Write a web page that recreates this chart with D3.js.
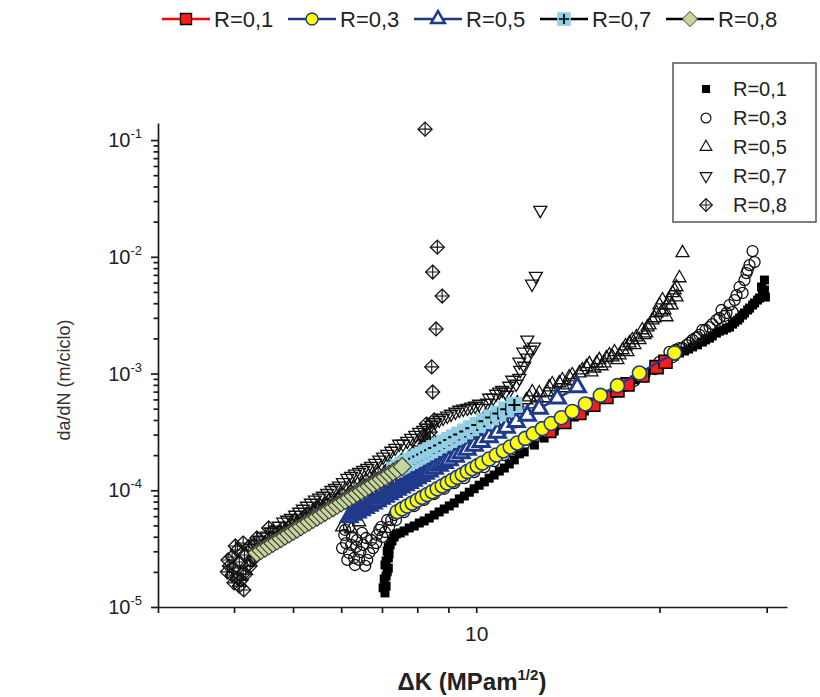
<!DOCTYPE html>
<html><head><meta charset="utf-8">
<script src="https://cdn.jsdelivr.net/npm/d3@7"></script>
<style>body{margin:0;background:#fff}svg{display:block;font-family:"Liberation Sans",Arial,sans-serif}</style>
</head><body><svg id="c" width="820" height="697"></svg>
<script>
const seriesNames = ["R=0,1","R=0,3","R=0,5","R=0,7","R=0,8"];
const xTickValues = [3,4,5,6,7,8,9,10,20,30];
const xTickLabels = {10:"10"};
const yMajorTicks = [1e-5,1e-4,1e-3,1e-2,1e-1];
const yMajorExp = ["-5","-4","-3","-2","-1"];

// experimental data [ΔK, da/dN]
const exp01 = [[7.08,1.32e-5],[7.11,1.51e-5],[7.06,1.74e-5],[7.14,2.00e-5],[7.08,2.29e-5],[7.17,2.63e-5],[7.14,3.02e-5],[7.22,3.40e-5],[7.33,3.98e-5],[7.61,4.48e-5],[7.91,4.94e-5],[8.21,5.46e-5],[8.53,6.14e-5],[8.86,6.91e-5],[9.20,7.78e-5],[9.56,8.93e-5],[9.92,1.03e-4],[10.31,1.18e-4],[10.70,1.35e-4],[11.12,1.55e-4],[11.55,1.82e-4],[11.99,2.13e-4],[12.46,2.44e-4],[12.93,2.80e-4],[13.43,3.22e-4],[13.95,3.69e-4],[14.49,4.24e-4],[15.05,4.77e-4],[15.63,5.48e-4],[16.24,6.17e-4],[16.87,6.95e-4],[17.51,7.82e-4],[18.19,8.80e-4],[18.90,1.01e-3],[19.63,1.14e-3],[20.38,1.28e-3],[21.17,1.41e-3],[21.99,1.56e-3],[22.66,1.69e-3],[23.52,1.86e-3],[24.17,2.01e-3],[24.81,2.22e-3],[25.48,2.36e-3],[26.07,2.50e-3],[26.58,2.76e-3],[27.08,2.99e-3],[27.59,3.30e-3],[28.12,3.64e-3],[28.66,4.02e-3],[29.21,4.44e-3],[29.53,4.70e-3],[29.42,5.51e-3],[29.75,6.32e-3],
  [7.03,1.46e-5],[7.11,1.84e-5],[7.17,2.15e-5],[7.11,2.48e-5],[7.19,2.85e-5],[7.17,3.27e-5],[7.27,3.68e-5],[7.39,4.22e-5],[7.50,4.31e-5],[7.76,4.75e-5],[8.06,5.24e-5],[8.37,5.78e-5],[8.69,6.52e-5],[9.03,7.34e-5],[9.38,8.43e-5],[9.74,9.62e-5],[10.11,1.105e-4],[10.50,1.27e-4],[10.91,1.46e-4],[11.33,1.68e-4],[11.77,2.05e-4],
  [21.57,1.50e-3],[22.32,1.62e-3],[23.09,1.76e-3],[23.81,1.94e-3],[24.42,2.10e-3],[25.10,2.31e-3],[25.77,2.45e-3],[26.37,2.65e-3],[26.88,2.87e-3],[27.39,3.17e-3],[27.92,3.50e-3],[28.44,3.86e-3],[28.99,4.26e-3],[29.75,5.19e-3],[29.86,4.52e-3]];
const exp03 = [[6.07,4.14e-5],[6.11,3.53e-5],[6.18,2.90e-5],[6.18,4.84e-5],[6.25,3.98e-5],[6.30,2.63e-5],[6.35,3.27e-5],[6.42,2.53e-5],[6.49,4.31e-5],[6.57,2.25e-5],[6.67,2.90e-5],[6.72,3.75e-5],[6.85,3.53e-5],[6.93,4.57e-5],[7.01,3.98e-5],[7.14,5.56e-5],[7.19,4.84e-5],[7.33,6.14e-5],[7.38,5.56e-5],[7.61,6.51e-5],[7.91,7.33e-5],[8.21,8.26e-5],[8.53,9.29e-5],[8.86,1.03e-4],[9.20,1.15e-4],[9.56,1.27e-4],[9.92,1.43e-4],[10.31,1.58e-4],[10.70,1.78e-4],[11.12,2.00e-4],[11.55,2.25e-4],[11.99,2.49e-4],[12.46,2.80e-4],[12.93,3.15e-4],[13.43,3.48e-4],[13.95,3.92e-4],[14.49,4.41e-4],[15.05,4.97e-4],[15.63,5.48e-4],[16.24,6.17e-4],[16.87,6.95e-4],[17.51,7.82e-4],[18.19,8.63e-4],[18.90,9.71e-4],[19.63,1.09e-3],[20.38,1.23e-3],[21.01,1.38e-3],[21.57,1.65e-3],[22.15,1.75e-3],[22.66,1.94e-3],[23.09,2.05e-3],[23.52,2.36e-3],[24.17,2.50e-3],[24.81,2.87e-3],[25.29,3.50e-3],[25.77,3.30e-3],[26.37,3.36e-3],[26.77,4.70e-3],[27.08,5.51e-3],[27.39,4.90e-3],[27.80,7.26e-3],[28.12,8.49e-3],[28.66,9.01e-3],[28.44,1.12e-2],
  [6.02,3.20e-5],[6.14,2.53e-5],[6.23,3.40e-5],[6.37,3.75e-5],[6.45,2.96e-5],[6.52,3.40e-5],[6.62,2.53e-5],[6.77,3.20e-5],[6.87,4.14e-5],[6.98,4.85e-5],[7.08,4.39e-5],[7.25,5.56e-5],[6.59,3.90e-5],[6.32,2.29e-5],[6.09,4.57e-5],
  [20.00,1.26e-3],[20.77,1.53e-3],[21.25,1.59e-3],[21.82,1.65e-3],[22.41,1.83e-3],[22.93,2.02e-3],[23.27,2.14e-3],[23.81,2.36e-3],[24.42,2.65e-3],[25.10,2.99e-3],[25.58,3.11e-3],[26.07,3.86e-3],[26.58,4.26e-3],[27.59,6.32e-3],[27.92,7.70e-3]];
const exp05 = [[6.02,4.84e-5],[6.14,5.78e-5],[6.23,4.65e-5],[6.32,6.51e-5],[6.42,5.35e-5],[6.54,7.93e-5],[6.80,8.75e-5],[7.06,1.00e-4],[7.33,1.11e-4],[7.61,1.25e-4],[7.91,1.38e-4],[8.21,1.55e-4],[8.53,1.75e-4],[8.86,1.96e-4],[9.20,2.21e-4],[9.56,2.44e-4],[9.92,2.75e-4],[10.31,3.09e-4],[10.70,3.48e-4],[11.12,3.92e-4],[11.46,5.16e-4],[11.77,4.87e-4],[12.22,6.29e-4],[12.44,5.48e-4],[12.69,6.81e-4],[12.93,6.17e-4],[13.18,7.66e-4],[13.48,6.95e-4],[13.69,8.30e-4],[13.95,7.52e-4],[14.22,9.33e-4],[14.49,8.63e-4],[14.77,1.01e-3],[15.17,1.14e-3],[15.46,1.03e-3],[15.77,1.23e-3],[16.06,1.16e-3],[16.36,1.36e-3],[16.74,1.38e-3],[17.06,1.31e-3],[17.40,1.59e-3],[17.72,1.53e-3],[17.85,1.82e-3],[18.33,2.05e-3],[18.54,1.94e-3],[18.74,2.36e-3],[19.02,2.22e-3],[19.11,2.50e-3],[19.48,2.87e-3],[19.78,3.30e-3],[20.00,3.86e-3],[20.38,3.50e-3],[20.54,3.05e-3],[20.77,4.26e-3],[21.01,4.90e-3],[21.33,4.52e-3],[21.33,5.51e-3],[21.57,6.58e-3],[21.82,1.08e-2],
  [6.42,6.52e-5],[6.67,7.49e-5],[6.93,8.26e-5],[7.19,9.43e-5],[7.47,1.06e-4],[7.76,1.17e-4],[8.06,1.32e-4],[8.37,1.49e-4],[8.69,1.68e-4],[9.03,1.89e-4],[9.38,2.12e-4],[9.74,2.35e-4],[10.11,2.64e-4],[10.50,2.91e-4],[10.91,3.28e-4],[11.33,3.69e-4],
  [11.68,5.59e-4],[12.09,5.93e-4],[12.36,6.94e-4],[12.59,6.17e-4],[13.08,6.94e-4],[13.33,8.13e-4],[13.85,8.80e-4],[14.11,7.97e-4],[14.38,9.72e-4],[14.94,1.07e-3],[15.34,1.21e-3],[15.63,1.11e-3],[15.93,1.31e-3],[16.24,1.23e-3],[16.55,1.44e-3],[16.87,1.53e-3],[17.19,1.44e-3],[17.59,1.72e-3],[18.05,1.94e-3],[18.19,1.76e-3],[18.90,2.14e-3],[19.26,2.60e-3],[19.63,2.99e-3],[20.15,3.36e-3],[20.61,3.86e-3],[20.93,3.86e-3],[21.17,5.19e-3],[20.23,4.26e-3]];
const exp07 = [[4.26,3.20e-5],[4.40,3.75e-5],[4.53,4.06e-5],[4.67,4.57e-5],[4.82,5.35e-5],[4.96,5.78e-5],[5.12,6.51e-5],[5.27,7.33e-5],[5.43,8.26e-5],[5.60,8.93e-5],[5.78,1.00e-4],[5.95,1.09e-4],[6.14,1.27e-4],[6.32,1.38e-4],[6.52,1.49e-4],[6.72,1.61e-4],[6.93,1.82e-4],[7.14,2.04e-4],[7.36,2.30e-4],[7.58,2.49e-4],[7.82,2.80e-4],[8.06,3.15e-4],[8.30,3.41e-4],[8.56,3.84e-4],[8.82,4.16e-4],[9.09,4.50e-4],[9.38,4.87e-4],[9.67,5.06e-4],[9.96,5.27e-4],[10.19,5.06e-4],[10.42,5.59e-4],[10.66,6.17e-4],[10.91,6.95e-4],[11.16,6.95e-4],[11.33,7.82e-4],[11.46,8.80e-4],[11.63,8.13e-4],[11.77,9.14e-4],[11.81,1.07e-3],[11.99,1.16e-3],[11.77,1.26e-3],[12.13,1.36e-3],[11.95,1.53e-3],[12.26,1.59e-3],[12.44,1.69e-3],[12.13,1.94e-3],[12.35,5.85e-3],[12.53,6.84e-3],[12.74,2.51e-2],
  [4.33,3.47e-5],[4.46,3.98e-5],[4.60,4.39e-5],[4.74,4.94e-5],[4.89,5.56e-5],[5.04,6.14e-5],[5.19,6.91e-5],[5.35,7.78e-5],[5.52,8.59e-5],[5.69,9.43e-5],[5.86,1.04e-4],[6.04,1.17e-4],[6.23,1.32e-4],[6.42,1.43e-4],[6.62,1.55e-4],[6.82,1.71e-4],[7.03,1.93e-4],[7.25,2.17e-4],[7.47,2.49e-4],[7.70,2.64e-4],[7.94,2.97e-4],[8.18,3.28e-4],[8.43,3.62e-4],[8.69,4.00e-4],[8.96,4.33e-4],[9.24,4.68e-4],[9.52,4.97e-4],[9.81,5.17e-4],[10.11,5.48e-4],[10.50,6.17e-4],[10.78,6.68e-4],[11.03,7.22e-4],[11.24,6.55e-4]];
const exp08 = [[4.08,1.51e-5],[4.00,1.61e-5],[4.05,1.77e-5],[4.14,1.92e-5],[3.90,2.00e-5],[3.99,2.16e-5],[4.20,2.25e-5],[4.08,2.43e-5],[4.26,2.53e-5],[3.97,2.68e-5],[4.16,2.79e-5],[4.33,2.90e-5],[4.05,3.08e-5],[4.23,3.27e-5],[4.14,3.53e-5],[4.32,3.40e-5],[4.46,3.20e-5],[4.58,3.90e-5],[4.65,3.75e-5],[4.56,4.75e-5],[4.74,4.39e-5],[4.87,4.22e-5],[4.96,5.04e-5],[5.08,4.75e-5],[5.19,5.78e-5],[5.31,5.34e-5],[5.43,6.51e-5],[5.56,6.14e-5],[5.52,7.48e-5],[5.69,7.48e-5],[5.82,6.91e-5],[5.95,8.41e-5],[6.09,7.93e-5],[6.23,9.66e-5],[6.37,8.93e-5],[6.52,1.11e-4],[6.67,1.03e-4],[6.82,1.27e-4],[6.98,1.18e-4],[7.14,1.46e-4],[7.30,1.38e-4],[7.47,1.68e-4],[7.64,1.61e-4],[7.82,1.96e-4],[8.00,1.89e-4],[8.18,2.30e-4],[8.06,2.39e-4],[8.30,2.69e-4],[8.40,3.15e-4],[8.28,3.69e-4],[8.53,4.00e-4],[8.48,6.95e-4],[8.45,1.14e-3],[8.59,2.41e-3],[8.79,4.61e-3],[8.48,7.40e-3],[8.63,1.21e-2],[8.24,0.124],
  [4.36,3.90e-5],[4.50,3.47e-5],[4.62,4.39e-5],[4.72,3.90e-5],[4.83,4.75e-5],[4.93,4.39e-5],[5.04,5.56e-5],[5.15,5.14e-5],[5.27,6.27e-5],[5.37,5.78e-5],[5.50,7.05e-5],[5.62,6.65e-5],[5.75,8.26e-5],[5.88,7.79e-5],[6.02,9.24e-5],[6.16,8.76e-5],[6.30,1.04e-4],[6.45,9.80e-5],[6.59,1.20e-4],[6.74,1.15e-4],[6.90,1.38e-4],[7.06,1.27e-4],[7.22,1.58e-4],[7.39,1.49e-4],[7.56,1.82e-4],[7.73,1.75e-4],[7.91,2.12e-4],[8.09,2.04e-4],[8.24,2.49e-4],[8.40,2.80e-4],[8.18,2.91e-4],
  [3.93,2.24e-5],[3.97,1.88e-5],[4.11,1.70e-5],[4.18,1.91e-5],[4.25,2.24e-5],[4.02,3.33e-5],[4.32,2.63e-5],[4.40,3.08e-5],[3.91,2.53e-5],[4.15,1.40e-5]];

// fitted series [ΔK, da/dN]
const fit01 = [[13.18,3.228e-4],[13.95,3.848e-4],[14.77,4.589e-4],[15.57,5.409e-4],[16.36,6.301e-4],[17.06,7.171e-4],[17.72,8.067e-4],[18.75,9.616e-4],[19.78,1.134e-3],[20.46,1.260e-3]];
const fit03 = [[7.416,6.55e-5],[7.556,6.93e-5],[7.700,7.33e-5],[7.846,7.76e-5],[7.998,8.21e-5],[8.150,8.69e-5],[8.307,9.19e-5],[8.465,9.72e-5],[8.628,1.030e-4],[8.793,1.089e-4],[8.961,1.152e-4],[9.131,1.219e-4],[9.305,1.290e-4],[9.484,1.365e-4],[9.665,1.445e-4],[9.849,1.529e-4],[10.04,1.617e-4],[10.23,1.712e-4],[10.50,1.853e-4],[10.79,2.005e-4],[11.08,2.170e-4],[11.37,2.349e-4],[11.68,2.542e-4],[12.04,2.783e-4],[12.41,3.048e-4],[12.84,3.375e-4],[13.28,3.736e-4],[13.80,4.181e-4],[14.38,4.735e-4],[15.11,5.486e-4],[15.99,6.496e-4],[17.06,7.873e-4],[18.54,1.010e-3],[21.17,1.500e-3]];
const fit05 = [[6.182,5.90e-5],[6.277,6.17e-5],[6.373,6.45e-5],[6.471,6.75e-5],[6.569,7.06e-5],[6.668,7.39e-5],[6.770,7.73e-5],[6.874,8.08e-5],[6.979,8.46e-5],[7.085,8.84e-5],[7.193,9.25e-5],[7.303,9.67e-5],[7.416,1.012e-4],[7.527,1.058e-4],[7.642,1.107e-4],[7.759,1.158e-4],[7.877,1.212e-4],[7.998,1.268e-4],[8.118,1.326e-4],[8.243,1.386e-4],[8.369,1.451e-4],[8.528,1.534e-4],[8.692,1.623e-4],[8.859,1.717e-4],[9.028,1.816e-4],[9.236,1.943e-4],[9.447,2.078e-4],[9.665,2.224e-4],[9.924,2.406e-4],[10.19,2.603e-4],[10.50,2.849e-4],[10.83,3.115e-4],[11.20,3.447e-4],[11.63,3.859e-4],[12.13,4.368e-4],[12.69,4.997e-4],[13.59,6.118e-4],[14.66,7.66e-4]];
const fit07 = [[7.33,1.505e-4],[7.442,1.570e-4],[7.556,1.638e-4],[7.672,1.709e-4],[7.788,1.782e-4],[7.907,1.861e-4],[8.028,1.942e-4],[8.150,2.026e-4],[8.276,2.113e-4],[8.400,2.204e-4],[8.528,2.299e-4],[8.692,2.424e-4],[8.859,2.557e-4],[9.028,2.696e-4],[9.200,2.842e-4],[9.376,2.997e-4],[9.592,3.194e-4],[9.813,3.405e-4],[10.04,3.628e-4],[10.31,3.910e-4],[10.58,4.211e-4],[10.87,4.535e-4],[11.20,4.934e-4],[11.55,5.373e-4]];
const fit08 = [[4.363,2.906e-5],[4.430,3.046e-5],[4.498,3.193e-5],[4.565,3.345e-5],[4.635,3.506e-5],[4.706,3.675e-5],[4.778,3.852e-5],[4.851,4.038e-5],[4.925,4.229e-5],[5.000,4.433e-5],[5.077,4.648e-5],[5.155,4.871e-5],[5.233,5.107e-5],[5.313,5.349e-5],[5.395,5.608e-5],[5.477,5.879e-5],[5.561,6.162e-5],[5.645,6.457e-5],[5.731,6.767e-5],[5.819,7.094e-5],[5.908,7.434e-5],[5.998,7.794e-5],[6.089,8.166e-5],[6.182,8.558e-5],[6.277,8.972e-5],[6.373,9.404e-5],[6.471,9.858e-5],[6.569,1.032e-4],[6.668,1.082e-4],[6.770,1.134e-4],[6.874,1.189e-4],[6.979,1.246e-4],[7.085,1.305e-4],[7.193,1.368e-4],[7.303,1.435e-4],[7.416,1.504e-4],[7.556,1.594e-4]];

const svg = d3.select("#c");
const x = d3.scaleLog().domain([3, 32.4]).range([158, 787]);
const y = d3.scaleLog().domain([1e-5, 0.14]).range([607, 123]);
const AX = "#1a1a1a";

const sqP = s => `M${-s},${-s}H${s}V${s}H${-s}Z`;
const triUpP = a => { const h=a*Math.sqrt(3)/2; return `M0,${-2*h/3}L${a/2},${h/3}L${-a/2},${h/3}Z`; };
const triDnP = a => { const h=a*Math.sqrt(3)/2; return `M0,${2*h/3}L${a/2},${-h/3}L${-a/2},${-h/3}Z`; };
const diamP = r => `M0,${-r}L${r},0L0,${r}L${-r},0Z`;
const crossP = r => `M0,${-r}V${r}M${-r},0H${r}`;

const NAVY = "#1f3a8a";
function marker(g, type) {
  switch (type) {
    case "e01": g.append("path").attr("d", sqP(4.5)).attr("fill", "#000"); break;
    case "e03": g.append("circle").attr("r", 5.5).attr("fill", "none").attr("stroke", "#111").attr("stroke-width", 1.3); break;
    case "e05": g.append("path").attr("d", triUpP(13)).attr("fill", "none").attr("stroke", "#111").attr("stroke-width", 1.3); break;
    case "e07": g.append("path").attr("d", triDnP(13)).attr("fill", "none").attr("stroke", "#111").attr("stroke-width", 1.3); break;
    case "e08":
      g.append("path").attr("d", diamP(7)).attr("fill", "none").attr("stroke", "#111").attr("stroke-width", 1.3);
      g.append("path").attr("d", crossP(7)).attr("fill", "none").attr("stroke", "#111").attr("stroke-width", 1.1); break;
    case "f01": g.append("path").attr("d", sqP(6.5)).attr("fill", "#ff1a1a").attr("stroke", "#000").attr("stroke-width", 1.6); break;
    case "f03": g.append("circle").attr("r", 7).attr("fill", "#ffff00").attr("stroke", NAVY).attr("stroke-width", 1.6); break;
    case "f05": g.append("path").attr("d", triUpP(16)).attr("fill", "#fff").attr("stroke", NAVY).attr("stroke-width", 3); break;
    case "f07":
      g.append("path").attr("d", sqP(8)).attr("fill", "#93cfe4");
      g.append("path").attr("d", crossP(6)).attr("fill", "none").attr("stroke", "#000").attr("stroke-width", 2); break;
    case "f08": g.append("path").attr("d", diamP(9)).attr("fill", "#c4d59e").attr("stroke", "#3a3a30").attr("stroke-width", 1.1); break;
  }
}

const yAxis = svg.append("g").attr("transform", "translate(158,0)")
  .call(d3.axisLeft(y).tickValues(yMajorTicks).tickSize(7).tickSizeOuter(0).tickFormat(""));
const yMinor = [];
yMajorTicks.forEach(v => { for (let k = 2; k <= 9; k++) { const t = v * k; if (t < 0.14) yMinor.push(t); } });
const yAxisMinor = svg.append("g").attr("transform", "translate(158,0)")
  .call(d3.axisLeft(y).tickValues(yMinor).tickSize(4.5).tickSizeOuter(0).tickFormat(""));
yAxisMinor.select(".domain").remove();
const xAxis = svg.append("g").attr("transform", "translate(0,607)")
  .call(d3.axisBottom(x).tickValues(xTickValues).tickSize(6).tickSizeOuter(0).tickFormat(d => xTickLabels[d] || ""));
[yAxis, yAxisMinor, xAxis].forEach(a => {
  a.selectAll("path,line").attr("stroke", AX).attr("stroke-width", 1.7);
});
xAxis.selectAll("text").attr("font-size", 21).attr("fill", "#222").attr("dy", "1.2em").attr("font-family", "Liberation Sans, Arial, sans-serif");

yMajorTicks.forEach((v, i) => {
  const t = svg.append("text").attr("x", 142).attr("y", y(v) + 7).attr("text-anchor", "end")
    .attr("font-size", 20).attr("fill", "#222");
  t.append("tspan").text("10");
  t.append("tspan").attr("dy", -9).attr("font-size", 13).text(yMajorExp[i]);
});

svg.append("text").attr("transform", "translate(70,380) rotate(-90)").attr("text-anchor", "middle")
  .attr("font-size", 18).attr("fill", "#333").text("da/dN (m/ciclo)");
const xt = svg.append("text").attr("x", 472).attr("y", 690).attr("text-anchor", "middle")
  .attr("font-size", 24).attr("font-weight", "bold").attr("fill", "#222");
xt.append("tspan").text("ΔK (MPam");
xt.append("tspan").attr("dy", -10).attr("font-size", 15).text("1/2");
xt.append("tspan").attr("dy", 10).text(")");

const plot = svg.append("g");
[[exp01,"e01"],[exp03,"e03"],[exp05,"e05"],[exp07,"e07"],[exp08,"e08"]].forEach(([data, type]) => {
  plot.append("g").selectAll("g").data(data).join("g")
    .attr("transform", d => `translate(${x(d[0])},${y(d[1])})`)
    .each(function() { marker(d3.select(this), type); });
});

const line = d3.line().x(d => x(d[0])).y(d => y(d[1]));
[[fit01,"f01","#ff0000",2],[fit03,"f03",NAVY,2.5],[fit05,"f05",NAVY,2.5],[fit07,"f07","#000",1.5],[fit08,"f08","#000",1.5]].forEach(([data, type, col, w]) => {
  const g = plot.append("g");
  g.append("path").datum(data).attr("d", line).attr("fill", "none").attr("stroke", col).attr("stroke-width", w);
  g.append("g").selectAll("g").data(data).join("g")
    .attr("transform", d => `translate(${x(d[0])},${y(d[1])})`)
    .each(function() { marker(d3.select(this), type); });
});

const topTypes = [["f01","#ff0000"],["f03",NAVY],["f05",NAVY],["f07","#000"],["f08","#000"]];
topTypes.forEach(([type, col], i) => {
  const tx = 214 + 126 * i, cy = 19;
  const g = svg.append("g");
  g.append("line").attr("x1", tx - 52).attr("x2", tx - 4).attr("y1", cy).attr("y2", cy).attr("stroke", col).attr("stroke-width", 2.5);
  marker(g.append("g").attr("transform", `translate(${tx - 28},${cy}) scale(0.85)`), type);
  g.append("text").attr("x", tx).attr("y", cy + 8).attr("font-size", 22).attr("fill", "#222").text(seriesNames[i]);
});

svg.append("rect").attr("x", 673).attr("y", 63).attr("width", 143).attr("height", 159)
  .attr("fill", "#fff").attr("stroke", "#555").attr("stroke-width", 1.5);
["e01","e03","e05","e07","e08"].forEach((type, i) => {
  const cy = 89 + 29 * i;
  marker(svg.append("g").attr("transform", `translate(706,${cy}) scale(0.9)`), type);
  svg.append("text").attr("x", 733).attr("y", cy + 7).attr("font-size", 20).attr("fill", "#222").text(seriesNames[i]);
});
</script>
</body></html>
